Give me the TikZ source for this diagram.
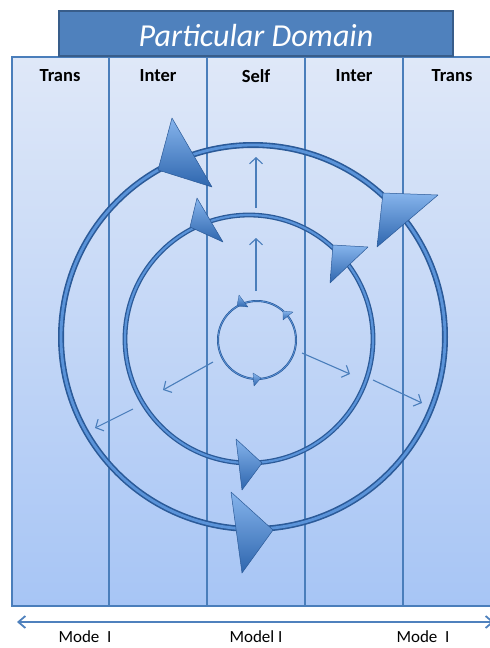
\documentclass[tikz,border=0pt]{standalone}
\usepackage{fontspec}
\setmainfont{Carlito}
\usetikzlibrary{arrows.meta,shadings}
\definecolor{boxblue}{HTML}{4F81BD}
\definecolor{boxedge}{HTML}{385D8A}
\definecolor{coltop}{HTML}{DFE8F8}
\definecolor{colbot}{HTML}{A7C5F5}
\definecolor{divline}{HTML}{4A7EBB}
\definecolor{ringdark}{HTML}{2B5A98}
\definecolor{ringlight}{HTML}{5A93D9}
\definecolor{headlight}{HTML}{86B4EC}
\definecolor{headdark}{HTML}{2E66AE}
\definecolor{thinarrow}{HTML}{4A7EBB}
\tikzset{
  hdr/.style={font=\bfseries\fontsize{18.5}{18.5}\selectfont, text=black, inner sep=0pt},
  modelbl/.style={font=\fontsize{17}{17}\selectfont, text=black, inner sep=0pt, anchor=base},
  radial/.style={draw=thinarrow, line width=1.1pt, -{Straight Barb[length=6pt,width=13pt,line width=1.1pt]}},
  ringout/.style={draw=ringdark},
  ringin/.style={draw=ringlight},
  headtri/.style={draw=ringdark, line width=0.5pt, top color=headlight, bottom color=headdark, line join=round},
}
\begin{document}
\begin{tikzpicture}[x=1pt,y=-1pt]
\useasboundingbox (0,0) rectangle (490,648);
\clip (0,0) rectangle (490,648);
% columns
\shade[top color=coltop, bottom color=colbot] (12,57) rectangle (502,606);
\draw[divline, line width=1.3pt] (12,57) rectangle (502,606);
\foreach \x in {109,207,305,403} \draw[divline, line width=1.3pt] (\x,57) -- (\x,606);
% title box
\draw[fill=boxblue, draw=boxedge, line width=1.5pt] (59,11) rectangle (453,56);
\node[text=white, font=\itshape\fontsize{32}{32}\selectfont, inner sep=0pt] (title) at (256,36) {Particular Domain};
% headers
\node[hdr] (h1) at (60,76) {Trans};
\node[hdr] (h2) at (158,76) {Inter};
\node[hdr] (h3) at (256,76) {Self};
\node[hdr] (h4) at (354,76) {Inter};
\node[hdr] (h5) at (452,76) {Trans};
% rings
\coordinate (c1) at (253,337);
\coordinate (c2) at (249,339);
\coordinate (c3) at (257,340);
\draw[ringout, line width=6pt] (c1) circle (192pt);
\draw[ringin, line width=2.8pt] (c1) circle (192pt);
\draw[ringout, line width=4.8pt] (c2) circle (124pt);
\draw[ringin, line width=2.2pt] (c2) circle (124pt);
\draw[ringout, line width=2pt] (c3) circle (39pt);
\draw[ringin, line width=0.7pt] (c3) circle (39pt);
% radial arrows
\coordinate (a1s) at (256,208); \coordinate (a1e) at (256,157);
\coordinate (a2s) at (256,291); \coordinate (a2e) at (256,238);
\coordinate (a3s) at (213,362); \coordinate (a3e) at (163,390);
\coordinate (a4s) at (133,409); \coordinate (a4e) at (95,428);
\coordinate (a5s) at (302,353); \coordinate (a5e) at (350,374);
\coordinate (a6s) at (373,380); \coordinate (a6e) at (422,403);
\draw[radial] (a1s) -- (a1e);
\draw[radial] (a2s) -- (a2e);
\draw[radial] (a3s) -- (a3e);
\draw[radial] (a4s) -- (a4e);
\draw[radial] (a5s) -- (a5e);
\draw[radial] (a6s) -- (a6e);
% arrowheads on rings
\shadedraw[headtri] (172,118) -- (212,187) -- (158,170) -- cycle;
\shadedraw[headtri] (383,193) -- (438,195) -- (377,247) -- cycle;
\shadedraw[headtri] (231,492) -- (273,530) -- (242,573) -- cycle;
\shadedraw[headtri] (197,198) -- (223,242) -- (190,227) -- cycle;
\shadedraw[headtri] (333,245) -- (368,247) -- (330,283) -- cycle;
\shadedraw[headtri] (236,439) -- (262,463) -- (242,490) -- cycle;
\shadedraw[headtri, line width=0.3pt] (239,295) -- (248,307) -- (237,306) -- cycle;
\shadedraw[headtri, line width=0.3pt] (283,311) -- (293,312) -- (283,320) -- cycle;
\shadedraw[headtri, line width=0.3pt] (253,373) -- (261,378) -- (254,386) -- cycle;
% bottom axis
\coordinate (axl) at (17,622);
\coordinate (axr) at (494,622);
\draw[boxblue, line width=1.8pt, {Straight Barb[length=7pt,width=12pt,line width=1.8pt]}-{Straight Barb[length=7pt,width=12pt,line width=1.8pt]}] (axl) -- (axr);
\node[modelbl] (m1) at (85,642) {Mode\ \ I};
\node[modelbl] (m2) at (256,642) {Model I};
\node[modelbl] (m3) at (423,642) {Mode\ \ I};
\end{tikzpicture}
\end{document}
